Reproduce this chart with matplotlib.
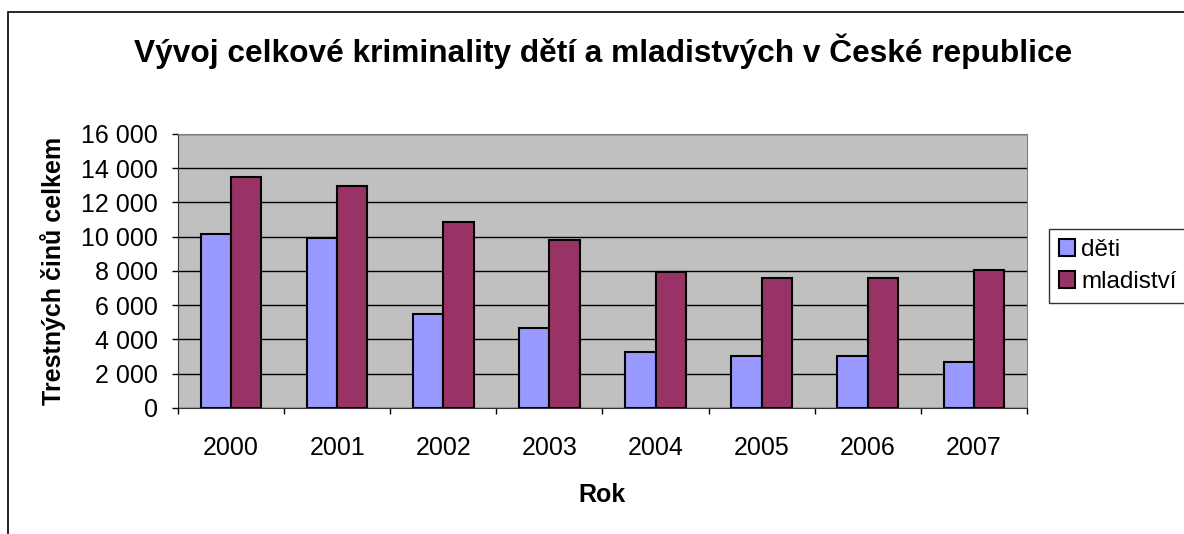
import matplotlib.pyplot as plt
import numpy as np
from matplotlib.patches import Rectangle
from matplotlib.ticker import FuncFormatter

years = ["2000", "2001", "2002", "2003", "2004", "2005", "2006", "2007"]
deti = [10150, 9900, 5500, 4650, 3250, 3050, 3050, 2700]
mladistvi = [13500, 12950, 10850, 9800, 7950, 7600, 7600, 8080]

plt.rcParams["font.family"] = ["Liberation Sans", "DejaVu Sans"]

fig = plt.figure(figsize=(11.84, 5.34), dpi=100)
ax = fig.add_axes([0.1503, 0.2360, 0.7171, 0.5131])

# chart area border (runs off the right and bottom edge like the original)
fig.patches.append(Rectangle((8 / 1184, -0.2), 1.2, 1.2 - 12 / 534,
                             transform=fig.transFigure, fill=False,
                             edgecolor="black", linewidth=1.2))

x = np.arange(len(years))
w = 0.2857
ax.bar(x - w / 2, deti, w, color="#9999FF", edgecolor="black", linewidth=1.5,
       label="děti", zorder=3)
ax.bar(x + w / 2, mladistvi, w, color="#993366", edgecolor="black", linewidth=1.5,
       label="mladiství", zorder=3)

ax.set_facecolor("#C0C0C0")
ax.set_xlim(-0.5, len(years) - 0.5)
ax.set_ylim(0, 16000)
ax.set_yticks(range(0, 16001, 2000))
ax.yaxis.set_major_formatter(FuncFormatter(lambda v, p: f"{int(v):,}".replace(",", " ")))
ax.grid(axis="y", color="black", linewidth=1, zorder=1)
ax.set_axisbelow(True)

ax.set_xticks(x)
ax.set_xticklabels(years)
ax.set_xticks(np.arange(-0.5, len(years)), minor=True)
ax.tick_params(axis="x", which="major", length=0, pad=20, labelsize=18)
ax.tick_params(axis="x", which="minor", length=4.5, width=1, color="black")
ax.tick_params(axis="y", length=4.5, width=1, labelsize=18, pad=10)

for side in ["top", "right"]:
    ax.spines[side].set_color("#808080")
for side in ["left", "bottom"]:
    ax.spines[side].set_color("#333333")

fig.text(603 / 1184, 1 - 62 / 534,
         "Vývoj celkové kriminality dětí a mladistvých v České republice",
         fontsize=22.8, fontweight="bold", ha="center", va="baseline")
ax.set_xlabel("Rok", fontsize=18, fontweight="bold", labelpad=17)
ax.set_ylabel("Trestných činů celkem", fontsize=18, fontweight="bold", labelpad=11)

leg = ax.legend(loc="center left", bbox_to_anchor=(1.026, 0.518), frameon=True,
                fancybox=False, edgecolor="black", fontsize=17.5,
                handlelength=0.68, handleheight=0.68, handletextpad=0.25,
                borderpad=0.4, labelspacing=0.4, borderaxespad=0)
leg.get_frame().set_linewidth(1)

fig.savefig("out.png", dpi=100)
